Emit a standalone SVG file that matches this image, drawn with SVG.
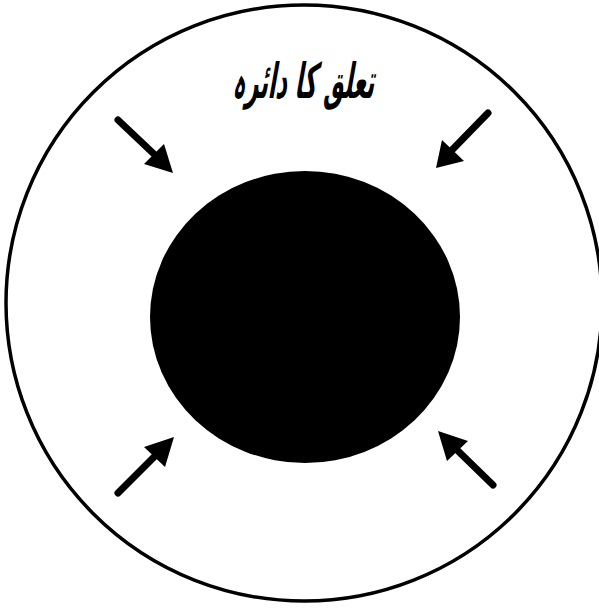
<svg xmlns="http://www.w3.org/2000/svg" width="599" height="609" viewBox="0 0 599 609">
<style>
.arrow line{stroke:#000;stroke-width:7;stroke-linecap:round}
.arrow polygon{fill:#000}
.title{font-family:"DejaVu Sans","Noto Sans",sans-serif;font-weight:bold;font-size:36px;fill:#000}
</style>
<rect width="599" height="609" fill="#fff"/>
<g id="outer"><circle cx="304" cy="303" r="298" fill="none" stroke="#000" stroke-width="3.5"/></g>
<g id="inner"><ellipse cx="305" cy="317" rx="155" ry="146" fill="#000"/></g>
<g id="label"><text class="title" x="0" y="0" text-anchor="middle" direction="rtl" transform="translate(303,98) skewX(-10) scale(0.62,1.35)">تعلق کا دائرہ</text></g>
<g id="connectors">
<g class="arrow" id="a1"><line x1="118" y1="120" x2="155" y2="155"/><polygon points="173,173 144,164 164,144"/></g>
<g class="arrow" id="a2"><line x1="488" y1="113" x2="452" y2="150"/><polygon points="436,168 442,140 464,161"/></g>
<g class="arrow" id="a3"><line x1="118" y1="493" x2="156" y2="455"/><polygon points="174,437 144,447 165,467"/></g>
<g class="arrow" id="a4"><line x1="493" y1="485" x2="456" y2="449"/><polygon points="438,431 468,441 447,461"/></g>
</g>
</svg>
